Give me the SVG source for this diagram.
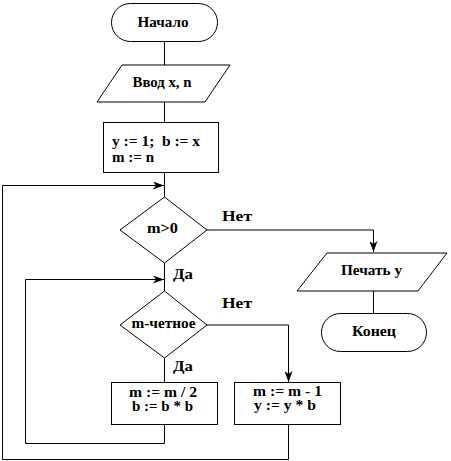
<svg xmlns="http://www.w3.org/2000/svg" width="451" height="461" viewBox="0 0 451 461">
<style>
.s{fill:#fff;stroke:#000;stroke-width:1}
.c{fill:none;stroke:#000;stroke-width:1}
text{font-family:'Liberation Serif','DejaVu Serif','Times New Roman',serif;font-weight:bold;font-size:14px;fill:#000}
.m{text-anchor:middle}
</style>
<defs>
<marker id="a" markerWidth="12" markerHeight="8" refX="11" refY="4" orient="auto" markerUnits="userSpaceOnUse">
<path d="M0,0 L11,4 L0,8 L3,4 z" fill="#000"/>
</marker>
</defs>
<g id="connectors">
<path class="c" d="M164.5,41 V65"/>
<path class="c" d="M164.5,102 V122"/>
<path class="c" d="M164.5,172 V197"/>
<path class="c" d="M207,230 H373.5 V252" marker-end="url(#a)"/>
<path class="c" d="M373.5,291 V313"/>
<path class="c" d="M164.5,263 V291"/>
<path class="c" d="M164.5,358 V382"/>
<path class="c" d="M207,325 H288.5 V382" marker-end="url(#a)"/>
<path class="c" d="M164.5,424 V443.5 H25.5 V279.5 H164" marker-end="url(#a)"/>
<path class="c" d="M288.5,424 V459.5 H2.5 V185.5 H164" marker-end="url(#a)"/>
</g>
<g id="start">
<rect class="s" x="111.5" y="3.5" width="106" height="38" rx="19"/>
<text class="m" x="163" y="27" textLength="51" lengthAdjust="spacingAndGlyphs">Начало</text>
</g>
<g id="input">
<polygon class="s" points="122,65 230,65 205,102 97,102"/>
<text class="m" x="162" y="87" textLength="59" lengthAdjust="spacingAndGlyphs">Ввод x, n</text>
</g>
<g id="init">
<rect class="s" x="103.5" y="122.5" width="115" height="50"/>
<text x="112" y="146" xml:space="preserve" textLength="88" lengthAdjust="spacingAndGlyphs">y := 1;  b := x</text>
<text x="112" y="162" textLength="42" lengthAdjust="spacingAndGlyphs">m := n</text>
</g>
<g id="cond1">
<polygon class="s" points="164.5,197 207,230 164.5,263 120,230"/>
<text class="m" x="162.5" y="233" textLength="31" lengthAdjust="spacingAndGlyphs">m&gt;0</text>
</g>
<text x="222" y="221" textLength="30" lengthAdjust="spacingAndGlyphs">Нет</text>
<text x="173" y="279" textLength="20" lengthAdjust="spacingAndGlyphs">Да</text>
<g id="print">
<polygon class="s" points="327,253 447,253 418,291 297,291"/>
<text class="m" x="371.5" y="275" textLength="61" lengthAdjust="spacingAndGlyphs">Печать y</text>
</g>
<g id="end">
<rect class="s" x="321.5" y="313.5" width="105" height="38" rx="19"/>
<text class="m" x="374" y="336" textLength="44" lengthAdjust="spacingAndGlyphs">Конец</text>
</g>
<g id="cond2">
<polygon class="s" points="164.5,291 207,325 164.5,358 120,325"/>
<text class="m" x="163.5" y="328" textLength="64" lengthAdjust="spacingAndGlyphs">m-четное</text>
</g>
<text x="222" y="308" textLength="30" lengthAdjust="spacingAndGlyphs">Нет</text>
<text x="173" y="371" textLength="20" lengthAdjust="spacingAndGlyphs">Да</text>
<g id="even">
<rect class="s" x="111.5" y="382.5" width="106" height="42"/>
<text class="m" x="163" y="397" textLength="68" lengthAdjust="spacingAndGlyphs">m := m / 2</text>
<text class="m" x="162.5" y="411" textLength="61" lengthAdjust="spacingAndGlyphs">b := b * b</text>
</g>
<g id="odd">
<rect class="s" x="234.5" y="382.5" width="106" height="42"/>
<text class="m" x="287.5" y="396" textLength="69" lengthAdjust="spacingAndGlyphs">m := m - 1</text>
<text class="m" x="285" y="410" textLength="62" lengthAdjust="spacingAndGlyphs">y := y * b</text>
</g>
</svg>
